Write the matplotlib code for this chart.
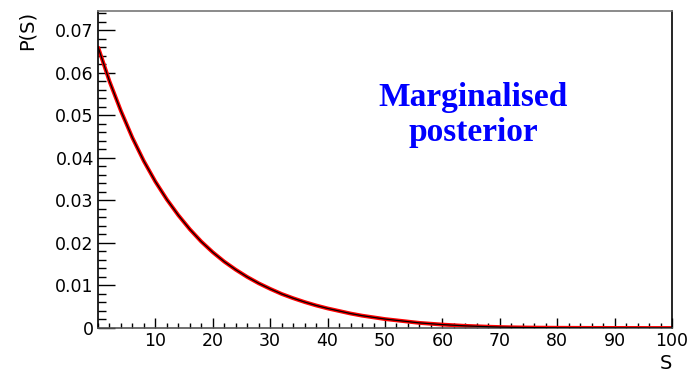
import matplotlib
matplotlib.use('Agg')
import matplotlib.pyplot as plt
from matplotlib.ticker import MultipleLocator, FuncFormatter

# marginalised posterior P(S), sampled every 2 units of S
S_VALUES = list(range(0, 101, 2))
P_VALUES = [0.0661, 0.0580, 0.0510, 0.0447, 0.0392, 0.0344, 0.0302, 0.0265,
            0.0232, 0.0203, 0.0178, 0.0156, 0.0137, 0.0120, 0.0105, 0.0092,
            0.0080, 0.0070, 0.0061, 0.0053, 0.0046, 0.0040, 0.0034, 0.0029,
            0.0025, 0.0021, 0.0018, 0.0015, 0.0012, 0.0010, 0.0008, 0.00065,
            0.0005, 0.0004, 0.0003, 0.00022, 0.00016, 0.00012, 0.00009,
            0.00007, 0.00005, 0.00004, 0.00003, 0.00002, 0.00002, 0.00001,
            0.00001, 0.00001, 0.0, 0.0, 0.0]

X_TICKS = [10, 20, 30, 40, 50, 60, 70, 80, 90, 100]
Y_TICKS = [0, 0.01, 0.02, 0.03, 0.04, 0.05, 0.06, 0.07]

plt.rcParams['font.family'] = ['DejaVu Sans']

fig = plt.figure(figsize=(6.87, 3.74), dpi=100)
ax = fig.add_axes([0.1426, 0.123, 0.9782 - 0.1426, 0.9706 - 0.123])

ax.plot(S_VALUES, P_VALUES, color='#ff0000', lw=2.8, solid_capstyle='butt', zorder=2)
ax.plot(S_VALUES, P_VALUES, color='black', lw=0.9, zorder=3)

ax.set_xlim(0, 100)
ax.set_ylim(0, 0.0745)

ax.set_xticks(X_TICKS)
ax.set_yticks(Y_TICKS)
ax.xaxis.set_minor_locator(MultipleLocator(2))
ax.yaxis.set_minor_locator(MultipleLocator(0.002))
ax.yaxis.set_major_formatter(FuncFormatter(lambda v, p: '0' if v == 0 else '%.2f' % v))

ax.tick_params(axis='x', which='major', direction='in', length=7, width=1, labelsize=12.5, pad=3)
ax.tick_params(axis='x', which='minor', direction='in', length=3.5, width=1)
ax.tick_params(axis='y', which='major', direction='in', length=12, width=1, labelsize=12.5, pad=3)
ax.tick_params(axis='y', which='minor', direction='in', length=6, width=1)
for side in ['left', 'right', 'top', 'bottom']:
    ax.spines[side].set_linewidth(1.2)
ax.spines['top'].set_color('#777777')
ax.spines['bottom'].set_color('#555555')

ax.text(65.3, 0.0500, 'Marginalised\nposterior', color='#0000ff', fontsize=24,
        fontweight='bold', family='Liberation Serif', ha='center', va='center',
        linespacing=1.15)

fig.text(0.978, 0.002, 'S', fontsize=14, ha='right', va='bottom')
fig.text(0.04, 0.97, 'P(S)', fontsize=14, rotation=90, ha='center', va='top')

fig.savefig('out.png', dpi=100)
